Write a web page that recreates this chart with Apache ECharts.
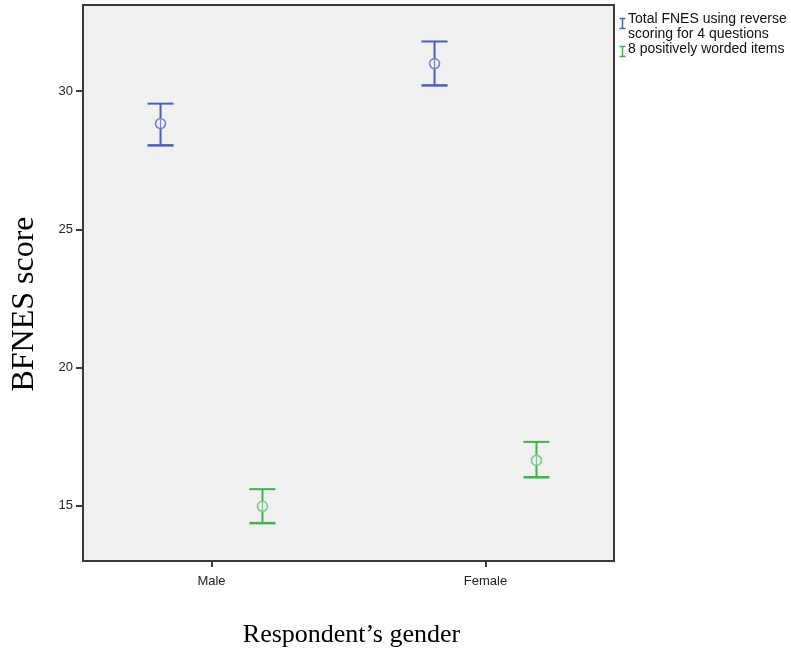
<!DOCTYPE html>
<html>
<head>
<meta charset="utf-8">
<script src="https://cdn.jsdelivr.net/npm/echarts@6/dist/echarts.min.js"></script>
<style>
  html, body { margin: 0; padding: 0; background: #fff; }
  #chart { width: 791px; height: 649px; }
</style>
</head>
<body>
<div id="chart"></div>
<script>
// Gender groups on the x axis (placed at 1 and 3 on a numeric scale)
const categories = ['Male', 'Female'];
const categoryPos = [1, 3];

// Total FNES (reverse scoring for 4 questions): mean and 95% CI
const totalMean = [28.83, 31.00];
const totalLow  = [28.04, 30.21];
const totalHigh = [29.55, 31.80];

// 8 positively worded items: mean and 95% CI
const posMean = [14.98, 16.64];
const posLow  = [14.37, 16.03];
const posHigh = [15.60, 17.31];

// y axis tick labels
const yTicks = [15, 20, 25, 30];

const seriesNames = ['Total FNES using reverse\nscoring for 4 questions', '8 positively worded items'];
const BLUE = '#4a60b6';
const BLUE_LIGHT = '#7486cc';
const GREEN = '#3cb54c';
const GREEN_LIGHT = '#74cc82';

const offset = 0.372;

function rows(shift, low, high, mean) {
  return categoryPos.map((p, i) => [p + shift, low[i], high[i], mean[i]]);
}

function makeRender(color, light) {
  return function (params, api) {
    const x = api.value(0);
    const pHi = api.coord([x, api.value(2)]);
    const pLo = api.coord([x, api.value(1)]);
    const pM = api.coord([x, api.value(3)]);
    const hw = 13;
    return {
      type: 'group',
      children: [
        { type: 'line', shape: { x1: pHi[0], y1: pHi[1], x2: pLo[0], y2: pLo[1] },
          style: { stroke: color, lineWidth: 2 } },
        { type: 'line', shape: { x1: pHi[0] - hw, y1: pHi[1], x2: pHi[0] + hw, y2: pHi[1] },
          style: { stroke: color, lineWidth: 2 } },
        { type: 'line', shape: { x1: pLo[0] - hw, y1: pLo[1], x2: pLo[0] + hw, y2: pLo[1] },
          style: { stroke: color, lineWidth: 2.5 } },
        { type: 'circle', shape: { cx: pM[0], cy: pM[1], r: 5 },
          style: { fill: '#f0f0f0', stroke: light, lineWidth: 1.6 } },
        { type: 'line', shape: { x1: pM[0], y1: pM[1] - 5, x2: pM[0], y2: pM[1] + 5 },
          style: { stroke: light, lineWidth: 1.2 } }
      ]
    };
  };
}

const chart = echarts.init(document.getElementById('chart'), null, { renderer: 'canvas' });

chart.setOption({
  animation: false,
  backgroundColor: '#ffffff',
  grid: {
    left: 83, top: 5, width: 531, height: 556,
    outerBoundsMode: 'none',
    containLabel: false,
    show: true, backgroundColor: '#f0f0f0', borderColor: '#3a3a3a', borderWidth: 2
  },
  xAxis: {
    type: 'value',
    min: 0.062, max: 3.938,
    name: 'Respondent’s gender',
    nameLocation: 'middle',
    nameGap: 61,
    nameTextStyle: { fontFamily: 'Liberation Serif', fontSize: 26, color: '#000', padding: [0, 0, 0, 6] },
    axisLine: { show: true, onZero: false, lineStyle: { color: '#3a3a3a', width: 2 } },
    axisTick: { show: true, customValues: categoryPos, length: 6, lineStyle: { color: '#3a3a3a', width: 2 } },
    axisLabel: {
      customValues: categoryPos,
      margin: 14,
      fontFamily: 'Liberation Sans', fontSize: 13, color: '#222',
      formatter: v => categories[categoryPos.indexOf(Math.round(v))] || ''
    },
    splitLine: { show: false }
  },
  yAxis: {
    type: 'value',
    min: 13.0, max: 33.12,
    axisLine: { show: true, onZero: false, lineStyle: { color: '#3a3a3a', width: 2 } },
    axisTick: { show: true, customValues: yTicks, length: 7, lineStyle: { color: '#3a3a3a', width: 2 } },
    axisLabel: {
      customValues: yTicks,
      margin: 10,
      fontFamily: 'Liberation Sans', fontSize: 13, color: '#222'
    },
    splitLine: { show: false }
  },
  series: [
    {
      name: seriesNames[0],
      type: 'custom',
      renderItem: makeRender(BLUE, BLUE_LIGHT),
      encode: { x: 0, y: [1, 2, 3] },
      data: rows(-offset, totalLow, totalHigh, totalMean)
    },
    {
      name: seriesNames[1],
      type: 'custom',
      renderItem: makeRender(GREEN, GREEN_LIGHT),
      encode: { x: 0, y: [1, 2, 3] },
      data: rows(offset, posLow, posHigh, posMean)
    }
  ],
  graphic: [
    // y axis title
    { type: 'text', x: 25, y: 304, rotation: Math.PI / 2, style: {
      text: 'BFNES score', fontFamily: 'Liberation Serif', fontSize: 32, fill: '#000',
      align: 'center', verticalAlign: 'middle'
    }},
    // legend: I-beam swatches with labels
    { type: 'group', left: 617, top: 16, children: [
      { type: 'line', shape: { x1: 0, y1: 0, x2: 6, y2: 0 }, style: { stroke: BLUE, lineWidth: 1.5 } },
      { type: 'line', shape: { x1: 3, y1: 0, x2: 3, y2: 10 }, style: { stroke: BLUE, lineWidth: 1.5 } },
      { type: 'line', shape: { x1: 0, y1: 10, x2: 6, y2: 10 }, style: { stroke: BLUE, lineWidth: 1.5 } }
    ]},
    { type: 'text', left: 628, top: 12, style: {
      text: seriesNames[0], fontFamily: 'Liberation Sans', fontSize: 14, lineHeight: 15, fill: '#111'
    }},
    { type: 'group', left: 617, top: 44, children: [
      { type: 'line', shape: { x1: 0, y1: 0, x2: 6, y2: 0 }, style: { stroke: GREEN, lineWidth: 1.5 } },
      { type: 'line', shape: { x1: 3, y1: 0, x2: 3, y2: 10 }, style: { stroke: GREEN, lineWidth: 1.5 } },
      { type: 'line', shape: { x1: 0, y1: 10, x2: 6, y2: 10 }, style: { stroke: GREEN, lineWidth: 1.5 } }
    ]},
    { type: 'text', left: 628, top: 42, style: {
      text: seriesNames[1], fontFamily: 'Liberation Sans', fontSize: 14, lineHeight: 15, fill: '#111'
    }}
  ]
});
</script>
</body>
</html>
